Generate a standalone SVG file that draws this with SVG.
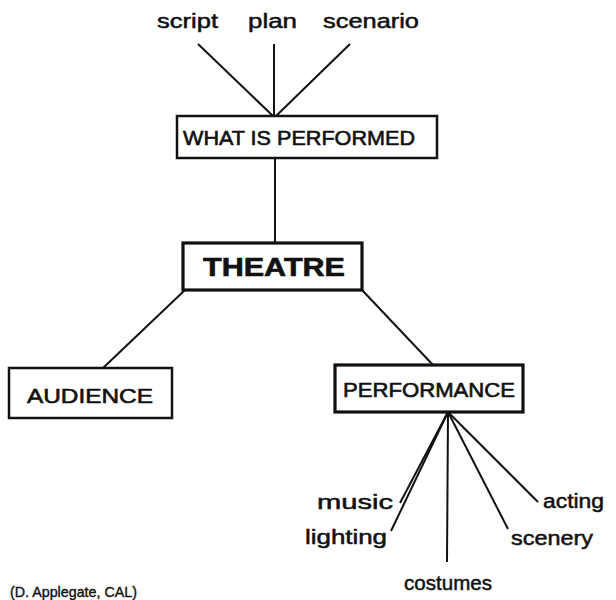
<svg xmlns="http://www.w3.org/2000/svg" width="616" height="600" viewBox="0 0 616 600">
<style>
  .box { fill: #fff; stroke: #111; stroke-width: 2.5; }
  .boxb { fill: #fff; stroke: #111; stroke-width: 3.2; }
  .t { font-family: "Liberation Sans", Arial, sans-serif; font-size: 20px; fill: #111; stroke: #111; stroke-width: 0.6; }
  .tb { font-family: "Liberation Sans", Arial, sans-serif; font-size: 25px; font-weight: bold; fill: #111; stroke: #111; stroke-width: 0.6; }
  .lbl { font-family: "Liberation Sans", Arial, sans-serif; font-size: 20px; fill: #111; stroke: #111; stroke-width: 0.5; }
  .cr { font-family: "Liberation Sans", Arial, sans-serif; font-size: 15px; fill: #111; stroke: #111; stroke-width: 0.4; }
  .c { stroke: #111; stroke-width: 2; fill: none; }
</style>
<rect width="616" height="600" fill="#fff"/>
<g id="connectors">
  <line class="c" x1="198" y1="44" x2="273" y2="116"/>
  <line class="c" x1="274" y1="44" x2="274" y2="116"/>
  <line class="c" x1="350" y1="44" x2="276" y2="116"/>
  <line class="c" x1="275" y1="158" x2="275" y2="243"/>
  <line class="c" x1="185" y1="290" x2="103" y2="368"/>
  <line class="c" x1="362" y1="290" x2="433" y2="365"/>
  <line class="c" x1="448" y1="412" x2="400" y2="503"/>
  <line class="c" x1="448" y1="412" x2="391" y2="531"/>
  <line class="c" x1="448" y1="412" x2="447" y2="562"/>
  <line class="c" x1="448" y1="412" x2="508" y2="529"/>
  <line class="c" x1="448" y1="412" x2="538" y2="502"/>
</g>
<g id="script"><text class="lbl" x="157" y="28" textLength="61" lengthAdjust="spacingAndGlyphs">script</text></g>
<g id="plan"><text class="lbl" x="248" y="28" textLength="49" lengthAdjust="spacingAndGlyphs">plan</text></g>
<g id="scenario"><text class="lbl" x="323" y="28" textLength="96" lengthAdjust="spacingAndGlyphs">scenario</text></g>
<g id="what-is-performed">
  <rect class="box" x="177" y="116" width="260" height="42"/>
  <text class="t" x="183" y="145" textLength="232" lengthAdjust="spacingAndGlyphs">WHAT IS PERFORMED</text>
</g>
<g id="theatre">
  <rect class="boxb" x="183" y="243" width="179" height="47"/>
  <text class="tb" x="203" y="276" textLength="142" lengthAdjust="spacingAndGlyphs">THEATRE</text>
</g>
<g id="audience">
  <rect class="box" x="9" y="368" width="163" height="50"/>
  <text class="t" x="27" y="403" textLength="126" lengthAdjust="spacingAndGlyphs">AUDIENCE</text>
</g>
<g id="performance">
  <rect class="boxb" x="335" y="365" width="188" height="47"/>
  <text class="t" x="343" y="397" textLength="172" lengthAdjust="spacingAndGlyphs">PERFORMANCE</text>
</g>
<g id="music"><text class="lbl" x="317" y="509" textLength="76" lengthAdjust="spacingAndGlyphs">music</text></g>
<g id="lighting"><text class="lbl" x="305" y="544" textLength="82" lengthAdjust="spacingAndGlyphs">lighting</text></g>
<g id="costumes"><text class="lbl" x="404" y="590" textLength="88" lengthAdjust="spacingAndGlyphs">costumes</text></g>
<g id="scenery"><text class="lbl" x="511" y="545" textLength="82" lengthAdjust="spacingAndGlyphs">scenery</text></g>
<g id="acting"><text class="lbl" x="543" y="508" textLength="61" lengthAdjust="spacingAndGlyphs">acting</text></g>
<g id="credit"><text class="cr" x="10" y="597" textLength="127" lengthAdjust="spacingAndGlyphs">(D. Applegate, CAL)</text></g>
</svg>
